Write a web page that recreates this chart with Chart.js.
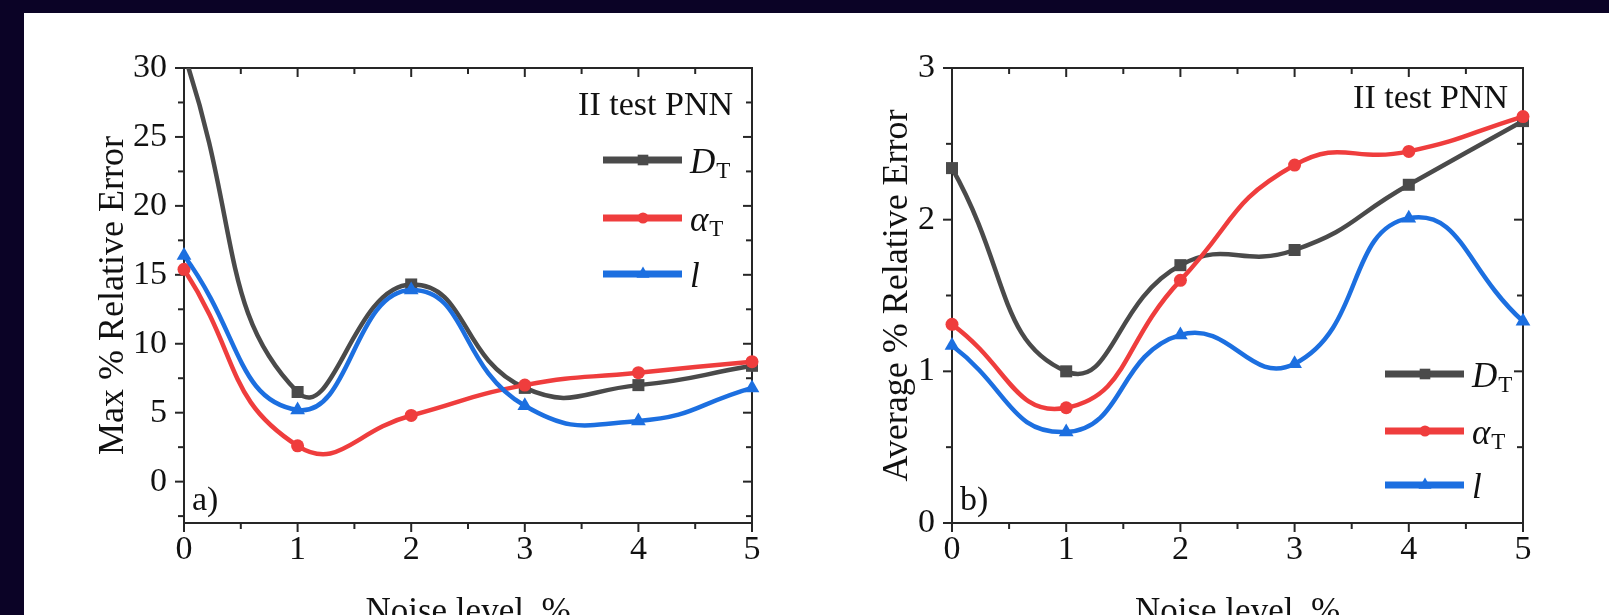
<!DOCTYPE html>
<html>
<head>
<meta charset="utf-8">
<script src="https://cdn.jsdelivr.net/npm/chart.js@4.4.1/dist/chart.umd.min.js"></script>
<style>
  html, body { margin: 0; padding: 0; width: 1609px; height: 615px; overflow: hidden; background: #0b0326; }
  .panel { position: absolute; left: 24px; top: 13px; right: 0; height: 640px; background: #fff; }
  canvas { position: absolute; top: 0; }
  #chartA { left: 0; }
  #chartB { left: 800px; }
</style>
</head>
<body>
<div class="panel"></div>
<canvas id="chartA" width="800" height="640"></canvas>
<canvas id="chartB" width="809" height="640"></canvas>
<script>
// === DATA ===
const noiseLevels = [0, 1, 2, 3, 4, 5];

const maxDT    = [31, 6.5, 14.3, 6.8, 7.0, 8.4];
const maxAlpha = [15.4, 2.6, 4.8, 7.0, 7.9, 8.7];
const maxL     = [16.4, 5.2, 13.9, 5.5, 4.4, 6.8];

const avgDT    = [2.34, 1.00, 1.70, 1.80, 2.23, 2.65];
const avgAlpha = [1.31, 0.76, 1.60, 2.36, 2.45, 2.68];
const avgL     = [1.17, 0.60, 1.24, 1.05, 2.01, 1.33];

const xTicks      = [0, 1, 2, 3, 4, 5];
const xMinorTicks = [0.5, 1.5, 2.5, 3.5, 4.5];
const yTicksA      = [0, 5, 10, 15, 20, 25, 30];
const yMinorTicksA = [-2.5, 2.5, 7.5, 12.5, 17.5, 22.5, 27.5];
const yTicksB      = [0, 1, 2, 3];
const yMinorTicksB = [0.5, 1.5, 2.5];

const seriesNames = [["D", "T"], ["\u03b1", "T"], ["l", ""]];

// === STYLE ===
const serif = "'Liberation Serif', 'Times New Roman', serif";
const axisColor = "#262626";
const textColor = "#111";
const colors = { gray: "#4a4a4a", red: "#ef3d3d", blue: "#1c6fe0" };

Chart.defaults.font.family = serif;
Chart.defaults.color = textColor;

// frame, minor ticks, note, legend and panel letter
const framePlugin = {
  id: "frame",
  beforeDatasetsDraw(chart, args, opts) {
    const { ctx, chartArea: a, scales: { x, y } } = chart;
    ctx.save();
    ctx.strokeStyle = axisColor;
    ctx.lineWidth = 2;
    ctx.strokeRect(a.left, a.top, a.right - a.left, a.bottom - a.top);

    const line = (x1, y1, x2, y2) => {
      ctx.beginPath();
      ctx.moveTo(x1, y1);
      ctx.lineTo(x2, y2);
      ctx.stroke();
    };
    const xMarks = (vals, len) => vals.forEach(v => {
      const px = x.getPixelForValue(v);
      line(px, a.bottom, px, a.bottom + len);
      line(px, a.top, px, a.top + len);
    });
    const yMarks = (vals, len) => vals.forEach(v => {
      const py = y.getPixelForValue(v);
      line(a.left - len, py, a.left, py);
      line(a.right - len, py, a.right, py);
    });
    xMarks(opts.xMajor, 9);
    xMarks(opts.xMinor, 6);
    yMarks(opts.yMajor, 9);
    yMarks(opts.yMinor, 6);
    ctx.restore();
  },
  afterDatasetsDraw(chart, args, opts) {
    const { ctx, chartArea: a } = chart;
    ctx.save();
    ctx.fillStyle = textColor;

    ctx.font = `34px ${serif}`;
    ctx.textAlign = "right";
    ctx.textBaseline = "alphabetic";
    ctx.fillText("II test PNN", a.right - opts.noteRight, a.top + opts.noteBaseline);

    ctx.textAlign = "left";
    ctx.fillText(opts.panel, a.left + 8, a.bottom - 13);

    // legend
    const x0 = a.right - opts.legendRight;
    chart.data.datasets.forEach((ds, i) => {
      const ly = a.top + opts.legendY[i];
      ctx.strokeStyle = ds.borderColor;
      ctx.lineWidth = 7;
      ctx.beginPath();
      ctx.moveTo(x0, ly);
      ctx.lineTo(x0 + 79, ly);
      ctx.stroke();
      ctx.fillStyle = ds.backgroundColor;
      Chart.helpers.drawPoint(ctx, {
        pointStyle: ds.pointStyle, radius: ds.pointRadius - 1, rotation: 0, borderWidth: 0
      }, x0 + 40, ly);

      const [main, sub] = seriesNames[i];
      ctx.fillStyle = textColor;
      ctx.font = `italic 35px ${serif}`;
      ctx.fillText(main, x0 + 87, ly + 13);
      const w = ctx.measureText(main).width;
      if (sub) {
        ctx.font = `23px ${serif}`;
        ctx.fillText(sub, x0 + 88 + w, ly + 18);
      }
    });
    ctx.restore();
  }
};

function makeSeries(values, color, pointStyle, pointRadius, order, clip) {
  return {
    data: noiseLevels.map((x, i) => ({ x, y: values[i] })),
    borderColor: color,
    backgroundColor: color,
    borderWidth: 4.5,
    pointStyle,
    pointRadius,
    pointBorderWidth: 0,
    tension: 0.5,
    order,
    clip
  };
}

const openClip = { left: 12, top: 12, right: 12, bottom: 12 };

function makeChart(id, sets, yMin, yMax, yTicks, yMinor, yTitle, padLeft, padRight, yWidth, frame) {
  return new Chart(document.getElementById(id), {
    type: "line",
    data: { datasets: sets },
    options: {
      responsive: false,
      animation: false,
      events: [],
      layout: { padding: { left: padLeft, right: padRight, top: 68, bottom: 6 } },
      plugins: {
        legend: { display: false },
        tooltip: { enabled: false },
        frame
      },
      scales: {
        x: {
          type: "linear",
          min: 0,
          max: 5,
          grid: { display: false, drawTicks: false },
          border: { display: false },
          ticks: { color: textColor, font: { size: 34 }, padding: 7, maxRotation: 0, autoSkip: false },
          afterBuildTicks: s => { s.ticks = xTicks.map(v => ({ value: v })); },
          afterFit: s => { s.height = 111; },
          title: { display: true, text: "Noise level, %", color: textColor, font: { size: 35 }, padding: 0 }
        },
        y: {
          min: yMin,
          max: yMax,
          grid: { display: false, drawTicks: false },
          border: { display: false },
          ticks: { color: textColor, font: { size: 34 }, padding: 17, autoSkip: false },
          afterBuildTicks: s => { s.ticks = yTicks.map(v => ({ value: v })); },
          afterFit: s => { s.width = yWidth; },
          title: { display: true, text: yTitle, color: textColor, font: { size: 36 }, padding: 0 }
        }
      }
    },
    plugins: [framePlugin]
  });
}

// === (a) Max % relative error ===
makeChart("chartA", [
  makeSeries(maxDT, colors.gray, "rect", 8.5, 3, { left: 12, top: 0, right: 12, bottom: 12 }),
  makeSeries(maxAlpha, colors.red, "circle", 6.5, 2, openClip),
  makeSeries(maxL, colors.blue, "triangle", 8.5, 1, openClip)
], -3, 30, yTicksA, yMinorTicksA, "Max % Relative Error", 92, 48, 92, {
  xMajor: xTicks, xMinor: xMinorTicks, yMajor: yTicksA, yMinor: yMinorTicksA,
  panel: "a)", noteRight: 19, noteBaseline: 47,
  legendRight: 149, legendY: [92, 150, 206]
});

// === (b) Average % relative error ===
makeChart("chartB", [
  makeSeries(avgDT, colors.gray, "rect", 8.5, 3, openClip),
  makeSeries(avgAlpha, colors.red, "circle", 6.5, 2, openClip),
  makeSeries(avgL, colors.blue, "triangle", 8.5, 1, openClip)
], 0, 3, yTicksB, yMinorTicksB, "Average % Relative Error", 76, 86, 76, {
  xMajor: xTicks, xMinor: xMinorTicks, yMajor: yTicksB, yMinor: yMinorTicksB,
  panel: "b)", noteRight: 15, noteBaseline: 40,
  legendRight: 138, legendY: [306, 363, 417]
});
</script>
</body>
</html>
